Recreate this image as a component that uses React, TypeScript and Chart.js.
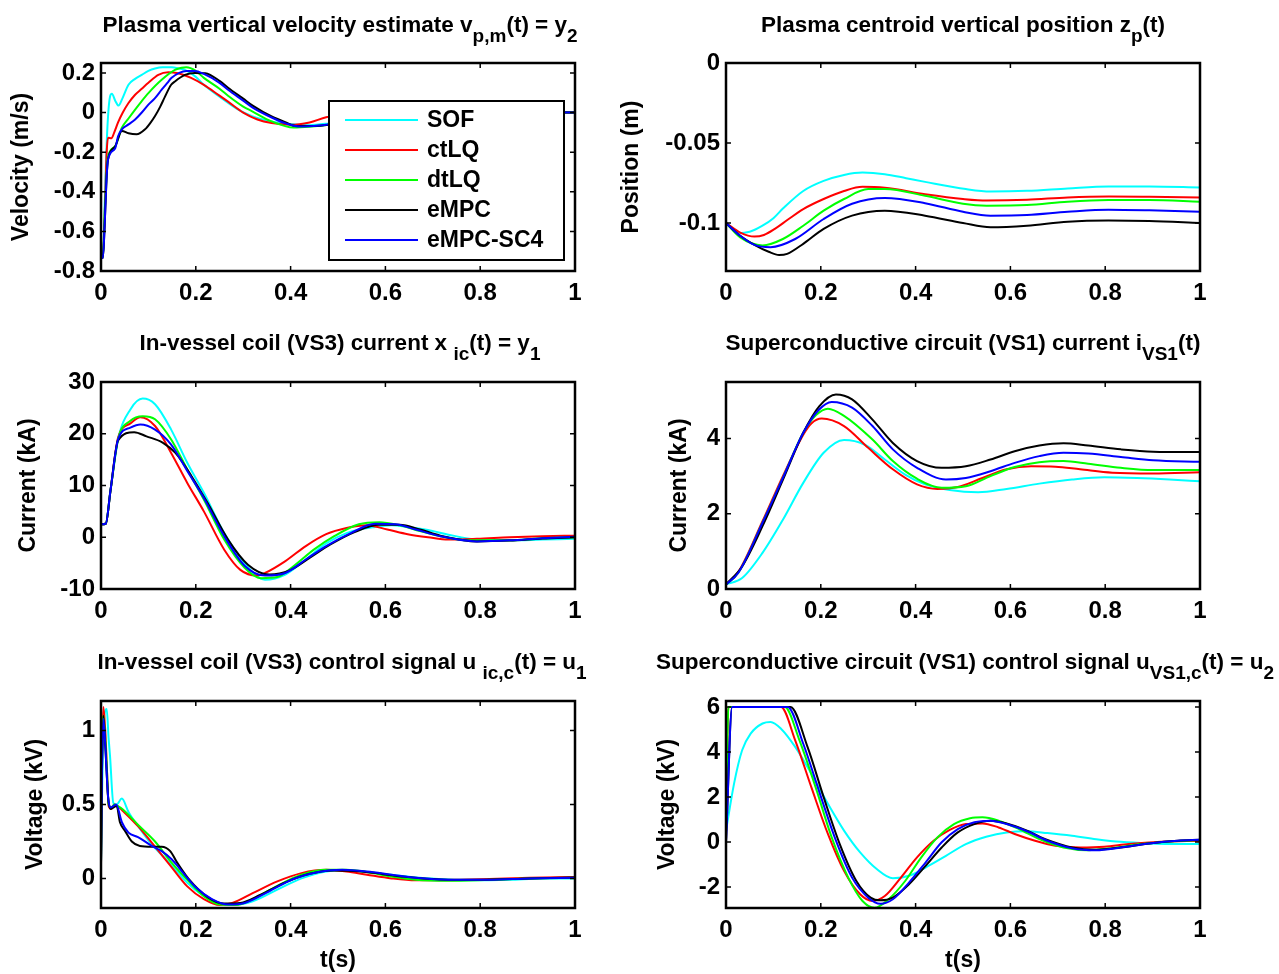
import React, { useEffect, useRef } from "react";
import { Chart, registerables } from "chart.js";
Chart.register(...registerables);

// ---------------- data ----------------
const SERIES_NAMES = ["SOF", "ctLQ", "dtLQ", "eMPC", "eMPC-SC4"];
const SERIES_COLORS = ["#00FFFF", "#FF0000", "#00FF00", "#000000", "#0000FF"];
const X_TICKS = [0, 0.2, 0.4, 0.6, 0.8, 1];

// Plasma vertical velocity estimate (m/s)
const velSOF = [[0,-0.72],[0.004,-0.73],[0.008,-0.45],[0.013,-0.1],[0.019,0.08],[0.023,0.095],[0.03,0.06],[0.037,0.035],[0.045,0.07],[0.058,0.14],[0.072,0.17],[0.086,0.19],[0.1,0.21],[0.114,0.222],[0.13,0.228],[0.149,0.228],[0.165,0.222],[0.177,0.215],[0.2,0.18],[0.217,0.14],[0.25,0.08],[0.286,0.02],[0.32,-0.02],[0.36,-0.045],[0.4,-0.058],[0.44,-0.064],[0.48,-0.055],[0.52,-0.04],[0.56,-0.025],[0.6,-0.012],[0.7,0.0],[0.8,0.002],[0.9,0],[1,0]];
const velCtLQ = [[0,-0.7],[0.004,-0.72],[0.008,-0.5],[0.012,-0.2],[0.015,-0.127],[0.022,-0.13],[0.028,-0.1],[0.036,-0.05],[0.046,0.0],[0.058,0.048],[0.072,0.09],[0.086,0.12],[0.1,0.15],[0.121,0.19],[0.142,0.203],[0.16,0.2],[0.17,0.193],[0.19,0.175],[0.217,0.14],[0.25,0.085],[0.268,0.055],[0.3,0.0],[0.33,-0.035],[0.36,-0.053],[0.4,-0.062],[0.44,-0.05],[0.475,-0.024],[0.52,-0.01],[0.56,0.0],[0.6,0.005],[0.7,0.005],[0.8,0],[1,0]];
const velDtLQ = [[0,-0.72],[0.004,-0.73],[0.008,-0.5],[0.012,-0.3],[0.015,-0.22],[0.03,-0.17],[0.044,-0.077],[0.058,-0.03],[0.072,0.015],[0.086,0.058],[0.1,0.098],[0.128,0.165],[0.156,0.215],[0.17,0.226],[0.18,0.228],[0.2,0.21],[0.217,0.175],[0.25,0.12],[0.268,0.085],[0.3,0.03],[0.32,0.005],[0.36,-0.045],[0.406,-0.076],[0.44,-0.072],[0.48,-0.062],[0.52,-0.045],[0.56,-0.028],[0.6,-0.015],[0.7,0.0],[0.8,0.002],[1,0]];
const velEMPC = [[0,-0.72],[0.004,-0.735],[0.008,-0.55],[0.012,-0.32],[0.015,-0.235],[0.03,-0.17],[0.044,-0.093],[0.058,-0.105],[0.075,-0.11],[0.093,-0.085],[0.105,-0.05],[0.114,-0.018],[0.125,0.03],[0.135,0.08],[0.148,0.14],[0.156,0.157],[0.177,0.19],[0.198,0.2],[0.22,0.198],[0.25,0.16],[0.268,0.125],[0.3,0.07],[0.32,0.035],[0.36,-0.02],[0.39,-0.05],[0.41,-0.068],[0.45,-0.068],[0.48,-0.062],[0.52,-0.045],[0.56,-0.03],[0.6,-0.018],[0.7,-0.002],[0.8,0.002],[1,0]];
const velSC4 = [[0,-0.72],[0.004,-0.735],[0.008,-0.55],[0.012,-0.32],[0.015,-0.235],[0.03,-0.18],[0.036,-0.12],[0.044,-0.085],[0.058,-0.06],[0.072,-0.035],[0.086,0.0],[0.1,0.04],[0.113,0.07],[0.128,0.115],[0.14,0.15],[0.149,0.175],[0.165,0.2],[0.18,0.21],[0.198,0.21],[0.217,0.195],[0.25,0.15],[0.268,0.115],[0.3,0.06],[0.32,0.025],[0.36,-0.025],[0.39,-0.055],[0.42,-0.071],[0.46,-0.066],[0.48,-0.06],[0.52,-0.045],[0.56,-0.03],[0.6,-0.018],[0.7,-0.002],[0.8,0.002],[1,0]];
const VEL_Y_TICKS = [-0.8, -0.6, -0.4, -0.2, 0, 0.2];

// Plasma centroid vertical position (m)
const posSOF = [[0,-0.1],[0.026,-0.1064],[0.05,-0.1055],[0.077,-0.1017],[0.1,-0.097],[0.12,-0.091],[0.163,-0.08],[0.206,-0.0737],[0.249,-0.07],[0.288,-0.0685],[0.335,-0.0695],[0.38,-0.072],[0.42,-0.0743],[0.506,-0.0788],[0.558,-0.0803],[0.635,-0.0799],[0.721,-0.0784],[0.807,-0.0772],[0.893,-0.0772],[1,-0.0778]];
const posCtLQ = [[0,-0.1],[0.03,-0.106],[0.06,-0.1085],[0.08,-0.1075],[0.103,-0.1037],[0.13,-0.098],[0.163,-0.0913],[0.206,-0.085],[0.249,-0.08],[0.288,-0.0774],[0.335,-0.078],[0.42,-0.082],[0.5,-0.085],[0.55,-0.086],[0.635,-0.0855],[0.721,-0.084],[0.807,-0.0834],[0.893,-0.0836],[1,-0.084]];
const posDtLQ = [[0,-0.1],[0.03,-0.109],[0.077,-0.114],[0.12,-0.11],[0.163,-0.1017],[0.206,-0.0923],[0.249,-0.085],[0.3,-0.0788],[0.335,-0.0788],[0.42,-0.083],[0.5,-0.088],[0.55,-0.0892],[0.635,-0.0888],[0.721,-0.0867],[0.807,-0.0857],[0.893,-0.0857],[1,-0.0867]];
const posEMPC = [[0,-0.1],[0.03,-0.108],[0.06,-0.1137],[0.09,-0.118],[0.112,-0.12],[0.129,-0.1193],[0.163,-0.113],[0.206,-0.1037],[0.266,-0.0954],[0.335,-0.0923],[0.42,-0.0954],[0.5,-0.1],[0.558,-0.1027],[0.635,-0.1017],[0.721,-0.0992],[0.807,-0.0985],[0.893,-0.0988],[1,-0.1]];
const posSC4 = [[0,-0.1],[0.03,-0.108],[0.06,-0.1137],[0.094,-0.1151],[0.146,-0.11],[0.206,-0.0975],[0.266,-0.088],[0.335,-0.0844],[0.42,-0.0876],[0.5,-0.093],[0.558,-0.0954],[0.635,-0.095],[0.721,-0.093],[0.807,-0.0917],[0.893,-0.0921],[1,-0.093]];
const POS_Y_TICKS = [-0.1, -0.05, 0];

// In-vessel coil current (kA)
const icSOF = [[0,2.5],[0.01,2.6],[0.02,9],[0.036,18.9],[0.062,24.7],[0.088,26.8],[0.114,25.7],[0.148,20.8],[0.182,14.4],[0.217,8.6],[0.26,0.8],[0.303,-5],[0.346,-8.2],[0.389,-7.2],[0.432,-4.3],[0.475,-1.2],[0.518,0.8],[0.578,2.0],[0.613,2.3],[0.647,2.0],[0.69,1.4],[0.733,0.5],[0.793,-0.45],[0.862,-0.6],[0.931,-0.45],[1,-0.3]];
const icCtLQ = [[0,2.5],[0.01,2.6],[0.02,9],[0.036,19.2],[0.062,22],[0.083,23.2],[0.114,21.5],[0.148,16.3],[0.182,10.5],[0.217,5],[0.26,-2.4],[0.294,-6.3],[0.329,-7.4],[0.346,-6.9],[0.389,-4.6],[0.432,-1.7],[0.475,0.6],[0.518,1.8],[0.561,2.3],[0.604,1.5],[0.647,0.6],[0.69,0],[0.733,-0.45],[0.793,-0.3],[0.862,0],[0.931,0.2],[1,0.3]];
const icDtLQ = [[0,2.5],[0.01,2.6],[0.02,9],[0.036,18.9],[0.062,22.5],[0.088,23.4],[0.114,22.8],[0.148,18.9],[0.182,13.1],[0.217,7.3],[0.26,-0.45],[0.303,-5.9],[0.337,-7.9],[0.372,-7.7],[0.406,-5.6],[0.449,-2.4],[0.492,0.2],[0.544,2.5],[0.587,2.9],[0.63,2.3],[0.673,1.2],[0.716,0.2],[0.776,-0.6],[0.862,-0.6],[0.931,-0.2],[1,0]];
const icEMPC = [[0,2.5],[0.01,2.6],[0.02,9],[0.036,18.7],[0.07,20.3],[0.096,19.5],[0.13,18.3],[0.157,16.3],[0.191,11.8],[0.225,6.6],[0.268,-0.45],[0.31,-5.3],[0.355,-7.2],[0.398,-6.4],[0.44,-4],[0.484,-1.4],[0.535,1],[0.587,2.4],[0.63,2.4],[0.673,1.5],[0.716,0.3],[0.793,-0.8],[0.862,-0.65],[0.931,-0.25],[1,0]];
const icSC4 = [[0,2.5],[0.01,2.6],[0.02,9],[0.036,18.9],[0.062,21.2],[0.083,21.8],[0.114,20.8],[0.148,17.9],[0.182,12.8],[0.217,7.6],[0.26,0.2],[0.303,-5.5],[0.346,-7.4],[0.389,-6.9],[0.432,-4.3],[0.475,-1.7],[0.527,0.8],[0.578,2.6],[0.621,2.5],[0.664,1.5],[0.716,0.2],[0.793,-0.8],[0.862,-0.6],[0.931,-0.2],[1,0.1]];
const IC_Y_TICKS = [-10, 0, 10, 20, 30];

// Superconductive circuit current (kA)
const vs1SOF = [[0,0.12],[0.034,0.29],[0.077,0.96],[0.12,1.84],[0.163,2.82],[0.206,3.62],[0.249,3.96],[0.292,3.84],[0.335,3.44],[0.378,3.04],[0.42,2.78],[0.472,2.63],[0.532,2.57],[0.592,2.66],[0.661,2.8],[0.73,2.91],[0.798,2.97],[0.867,2.95],[0.936,2.91],[1,2.86]];
const vs1CtLQ = [[0,0.12],[0.026,0.45],[0.077,1.8],[0.12,3.0],[0.163,4.1],[0.18,4.4],[0.202,4.53],[0.249,4.33],[0.3,3.75],[0.352,3.18],[0.403,2.78],[0.446,2.66],[0.489,2.71],[0.541,2.95],[0.592,3.18],[0.644,3.26],[0.695,3.25],[0.747,3.18],[0.815,3.09],[0.901,3.07],[1,3.1]];
const vs1DtLQ = [[0,0.12],[0.026,0.43],[0.077,1.76],[0.12,2.95],[0.163,4.15],[0.19,4.62],[0.215,4.79],[0.249,4.6],[0.309,3.97],[0.352,3.4],[0.403,2.93],[0.455,2.69],[0.506,2.73],[0.558,3.0],[0.609,3.24],[0.661,3.37],[0.712,3.4],[0.764,3.33],[0.833,3.22],[0.901,3.16],[1,3.16]];
const vs1EMPC = [[0,0.12],[0.034,0.6],[0.077,1.67],[0.12,2.9],[0.163,4.15],[0.197,4.86],[0.232,5.17],[0.266,5.04],[0.309,4.5],[0.352,3.88],[0.403,3.4],[0.455,3.22],[0.506,3.26],[0.558,3.44],[0.609,3.66],[0.661,3.81],[0.712,3.87],[0.764,3.81],[0.833,3.71],[0.901,3.65],[1,3.64]];
const vs1SC4 = [[0,0.12],[0.026,0.43],[0.077,1.76],[0.12,2.95],[0.163,4.15],[0.195,4.75],[0.223,4.97],[0.266,4.82],[0.309,4.33],[0.352,3.71],[0.403,3.22],[0.464,2.91],[0.506,2.95],[0.558,3.13],[0.609,3.35],[0.661,3.53],[0.712,3.62],[0.764,3.6],[0.833,3.51],[0.901,3.42],[1,3.38]];
const VS1_Y_TICKS = [0, 2, 4];

// In-vessel coil control signal (kV)
const u1SOF = [[0,0.1],[0.004,0.9],[0.008,1.12],[0.012,1.146],[0.016,0.95],[0.019,0.83],[0.026,0.51],[0.033,0.5],[0.044,0.54],[0.058,0.45],[0.079,0.35],[0.107,0.23],[0.131,0.15],[0.157,0.06],[0.182,-0.03],[0.217,-0.12],[0.251,-0.17],[0.277,-0.18],[0.32,-0.155],[0.372,-0.076],[0.423,0],[0.475,0.047],[0.518,0.054],[0.561,0.043],[0.613,0.025],[0.664,0.007],[0.716,-0.004],[0.776,-0.013],[0.862,-0.009],[0.931,0],[1,0]];
const u1CtLQ = [[0,0.08],[0.002,0.8],[0.005,1.16],[0.009,1.0],[0.013,0.7],[0.016,0.49],[0.022,0.47],[0.028,0.5],[0.035,0.49],[0.045,0.46],[0.079,0.35],[0.114,0.215],[0.148,0.08],[0.182,-0.054],[0.217,-0.14],[0.251,-0.18],[0.277,-0.166],[0.32,-0.1],[0.372,-0.02],[0.423,0.036],[0.475,0.058],[0.518,0.047],[0.561,0.025],[0.613,0],[0.664,-0.013],[0.733,-0.013],[0.819,-0.004],[0.905,0.004],[1,0.009]];
const u1DtLQ = [[0,0.1],[0.002,0.8],[0.005,1.1],[0.009,0.95],[0.013,0.7],[0.016,0.5],[0.022,0.48],[0.028,0.5],[0.035,0.49],[0.045,0.47],[0.079,0.36],[0.114,0.25],[0.148,0.11],[0.182,-0.01],[0.217,-0.12],[0.251,-0.177],[0.285,-0.18],[0.32,-0.14],[0.372,-0.05],[0.423,0.025],[0.475,0.058],[0.518,0.058],[0.561,0.043],[0.613,0.013],[0.664,-0.009],[0.733,-0.016],[0.819,-0.009],[0.905,0],[1,0.004]];
const u1EMPC = [[0,0.1],[0.002,0.7],[0.005,1.1],[0.009,0.9],[0.015,0.55],[0.02,0.47],[0.033,0.49],[0.04,0.38],[0.051,0.32],[0.065,0.25],[0.082,0.22],[0.107,0.215],[0.128,0.215],[0.146,0.185],[0.16,0.11],[0.184,0.0],[0.225,-0.126],[0.26,-0.17],[0.294,-0.166],[0.337,-0.11],[0.389,-0.027],[0.44,0.031],[0.492,0.054],[0.544,0.049],[0.596,0.029],[0.647,0.009],[0.716,-0.007],[0.801,-0.009],[0.905,0],[1,0.007]];
const u1SC4 = [[0,0.1],[0.002,0.7],[0.005,1.08],[0.009,0.9],[0.015,0.55],[0.02,0.48],[0.032,0.5],[0.044,0.38],[0.058,0.31],[0.078,0.28],[0.107,0.22],[0.128,0.185],[0.149,0.13],[0.165,0.07],[0.2,-0.06],[0.234,-0.14],[0.268,-0.177],[0.303,-0.166],[0.355,-0.087],[0.406,-0.004],[0.458,0.043],[0.509,0.058],[0.561,0.047],[0.613,0.025],[0.664,0.004],[0.733,-0.009],[0.819,-0.009],[0.905,0],[1,0.004]];
const U1_Y_TICKS = [0, 0.5, 1];

// Superconductive circuit control signal (kV)
const u2SOF = [[0,0.5],[0.017,2.6],[0.034,4.08],[0.052,4.82],[0.077,5.27],[0.094,5.34],[0.116,5.04],[0.146,4.23],[0.18,3.04],[0.215,1.7],[0.249,0.51],[0.283,-0.46],[0.318,-1.2],[0.352,-1.61],[0.386,-1.5],[0.421,-1.13],[0.464,-0.61],[0.506,-0.09],[0.549,0.24],[0.592,0.43],[0.635,0.48],[0.678,0.4],[0.73,0.28],[0.781,0.13],[0.833,0.01],[0.893,-0.06],[0.953,-0.09],[1,-0.09]];
const u2CtLQ = [[0,0.36],[0.005,6],[0.116,6],[0.146,4.52],[0.18,2.44],[0.215,0.36],[0.249,-1.28],[0.283,-2.32],[0.309,-2.62],[0.335,-2.4],[0.369,-1.58],[0.403,-0.68],[0.438,0.06],[0.472,0.54],[0.506,0.8],[0.541,0.83],[0.575,0.65],[0.609,0.36],[0.652,0.06],[0.695,-0.16],[0.747,-0.24],[0.798,-0.21],[0.85,-0.09],[0.918,0.01],[1,0.06]];
const u2DtLQ = [[0,0.8],[0.005,6],[0.124,6],[0.155,4.52],[0.189,2.44],[0.223,0.21],[0.258,-1.58],[0.288,-2.62],[0.313,-2.92],[0.343,-2.54],[0.378,-1.73],[0.412,-0.68],[0.446,0.21],[0.481,0.8],[0.515,1.06],[0.541,1.1],[0.575,0.95],[0.618,0.58],[0.661,0.13],[0.712,-0.24],[0.764,-0.36],[0.815,-0.27],[0.876,-0.09],[0.936,0.03],[1,0.09]];
const u2EMPC = [[0,0],[0.013,6],[0.136,6],[0.172,4.23],[0.206,2.0],[0.24,-0.09],[0.275,-1.73],[0.305,-2.47],[0.326,-2.59],[0.352,-2.47],[0.386,-1.88],[0.421,-1.06],[0.455,-0.24],[0.489,0.43],[0.524,0.8],[0.558,0.95],[0.592,0.83],[0.635,0.51],[0.678,0.09],[0.73,-0.24],[0.781,-0.34],[0.833,-0.24],[0.893,-0.06],[0.953,0.06],[1,0.1]];
const u2SC4 = [[0,0],[0.013,6],[0.13,6],[0.163,4.37],[0.197,2.22],[0.232,0.06],[0.266,-1.58],[0.3,-2.47],[0.326,-2.74],[0.352,-2.54],[0.386,-1.8],[0.421,-0.91],[0.455,-0.01],[0.489,0.58],[0.524,0.88],[0.558,0.95],[0.592,0.8],[0.635,0.48],[0.678,0.06],[0.73,-0.27],[0.781,-0.36],[0.833,-0.24],[0.893,-0.06],[0.953,0.06],[1,0.1]];
const U2_Y_TICKS = [-2, 0, 2, 4, 6];

// ---------------- layout / style ----------------
const FONT_FAMILY = "'Liberation Sans', Arial, Helvetica, sans-serif";
const TICK_FONT_SIZE = 24;
const LABEL_FONT_SIZE = 23;
const COLS = [
  { left: 0, width: 600, plotLeft: 101, plotRight: 575 },
  { left: 600, width: 679, plotLeft: 726, plotRight: 1200 },
];
const ROWS = [
  { top: 0, height: 310, plotTop: 63, plotBottom: 271 },
  { top: 310, height: 320, plotTop: 382, plotBottom: 589 },
  { top: 630, height: 344, plotTop: 701, plotBottom: 908 },
];

const PANELS = [
  { col: 0, row: 0, series: [velSOF, velCtLQ, velDtLQ, velEMPC, velSC4], yMin: -0.8, yMax: 0.25, yTicks: VEL_Y_TICKS, yLabel: "Velocity (m/s)", yTitleCenter: 22, legend: true },
  { col: 1, row: 0, series: [posSOF, posCtLQ, posDtLQ, posEMPC, posSC4], yMin: -0.13, yMax: 0, yTicks: POS_Y_TICKS, yLabel: "Position (m)", yTitleCenter: 632 },
  { col: 0, row: 1, series: [icSOF, icCtLQ, icDtLQ, icEMPC, icSC4], yMin: -10, yMax: 30, yTicks: IC_Y_TICKS, yLabel: "Current (kA)", yTitleCenter: 29 },
  { col: 1, row: 1, series: [vs1SOF, vs1CtLQ, vs1DtLQ, vs1EMPC, vs1SC4], yMin: 0, yMax: 5.5, yTicks: VS1_Y_TICKS, yLabel: "Current (kA)", yTitleCenter: 680 },
  { col: 0, row: 2, series: [u1SOF, u1CtLQ, u1DtLQ, u1EMPC, u1SC4], yMin: -0.2, yMax: 1.2, yTicks: U1_Y_TICKS, yLabel: "Voltage (kV)", yTitleCenter: 36, xLabel: "t(s)" },
  { col: 1, row: 2, series: [u2SOF, u2CtLQ, u2DtLQ, u2EMPC, u2SC4], yMin: -2.93, yMax: 6.27, yTicks: U2_Y_TICKS, yLabel: "Voltage (kV)", yTitleCenter: 668, xLabel: "t(s)" },
];

const LEGEND_BOX = { left: 329, top: 101, right: 564, bottom: 260, lineX0: 345, lineX1: 418, textX: 427, firstY: 120, stepY: 30 };

const fmt = (v: number) => String(Math.round(v * 1000) / 1000);

function Panel({ cfg }: { cfg: any }) {
  const ref = useRef<HTMLCanvasElement | null>(null);
  const col = COLS[cfg.col];
  const row = ROWS[cfg.row];
  useEffect(() => {
    if (!ref.current) return;
    const tickFont = { family: FONT_FAMILY, size: TICK_FONT_SIZE, weight: "bold" as const };
    const labelFont = { family: FONT_FAMILY, size: LABEL_FONT_SIZE, weight: "bold" as const };
    const halfLabelLine = (LABEL_FONT_SIZE * 1.2) / 2;
    const datasets = cfg.series.map((pts: number[][], i: number) => ({
      label: SERIES_NAMES[i],
      data: pts.map((p) => ({ x: p[0], y: p[1] })),
      borderColor: SERIES_COLORS[i],
      backgroundColor: SERIES_COLORS[i],
      borderWidth: 2,
      pointRadius: 0,
      fill: false,
      cubicInterpolationMode: "monotone",
      order: SERIES_NAMES.length - 1 - i,
    }));
    const framePlugin = {
      id: "frame",
      afterDatasetsDraw(chart: any) {
        const { ctx, chartArea, scales } = chart;
        const { left, right, top, bottom } = chartArea;
        ctx.save();
        ctx.strokeStyle = "#000";
        ctx.lineWidth = 1.5;
        const tl = 5;
        ctx.beginPath();
        for (const t of scales.x.ticks) {
          const px = scales.x.getPixelForValue(t.value);
          ctx.moveTo(px, bottom); ctx.lineTo(px, bottom - tl);
          ctx.moveTo(px, top); ctx.lineTo(px, top + tl);
        }
        for (const t of scales.y.ticks) {
          const py = scales.y.getPixelForValue(t.value);
          ctx.moveTo(left, py); ctx.lineTo(left + tl, py);
          ctx.moveTo(right, py); ctx.lineTo(right - tl, py);
        }
        ctx.stroke();
        ctx.lineWidth = 2.5;
        ctx.strokeRect(left, top, right - left, bottom - top);
        if (cfg.legend) {
          const ox = col.left, oy = row.top;
          const L = LEGEND_BOX;
          ctx.fillStyle = "#fff";
          ctx.fillRect(L.left - ox, L.top - oy, L.right - L.left, L.bottom - L.top);
          ctx.lineWidth = 2;
          ctx.strokeStyle = "#000";
          ctx.strokeRect(L.left - ox, L.top - oy, L.right - L.left, L.bottom - L.top);
          ctx.font = `bold ${LABEL_FONT_SIZE}px ${FONT_FAMILY}`;
          ctx.textBaseline = "middle";
          ctx.textAlign = "left";
          SERIES_NAMES.forEach((name, i) => {
            const y = L.firstY + i * L.stepY - oy;
            ctx.strokeStyle = SERIES_COLORS[i];
            ctx.lineWidth = 2;
            ctx.beginPath();
            ctx.moveTo(L.lineX0 - ox, y);
            ctx.lineTo(L.lineX1 - ox, y);
            ctx.stroke();
            ctx.fillStyle = "#000";
            ctx.fillText(name, L.textX - ox, y + 1);
          });
        }
        ctx.restore();
      },
    };
    const chart = new Chart(ref.current, {
      type: "line",
      data: { datasets },
      plugins: [framePlugin],
      options: {
        responsive: false,
        maintainAspectRatio: false,
        animation: false,
        events: [],
        layout: {
          padding: {
            left: 0,
            top: row.plotTop - row.top,
            right: col.left + col.width - col.plotRight,
            bottom: 0,
          },
        },
        plugins: {
          legend: { display: false },
          tooltip: { enabled: false },
          title: { display: false },
        },
        scales: {
          x: {
            type: "linear",
            min: 0,
            max: 1,
            grid: { display: false, drawTicks: false },
            border: { display: false },
            ticks: { font: tickFont, color: "#000", padding: 8, maxRotation: 0, autoSkip: false, callback: (v: any) => fmt(Number(v)) },
            afterBuildTicks: (s: any) => { s.ticks = X_TICKS.map((v) => ({ value: v })); },
            afterFit: (s: any) => { s.height = row.top + row.height - row.plotBottom; },
            title: cfg.xLabel
              ? { display: true, text: cfg.xLabel, font: labelFont, color: "#000", padding: { top: 0, bottom: 0 } }
              : { display: false },
          },
          y: {
            type: "linear",
            min: cfg.yMin,
            max: cfg.yMax,
            grid: { display: false, drawTicks: false },
            border: { display: false },
            ticks: { font: tickFont, color: "#000", padding: 6, autoSkip: false, callback: (v: any) => fmt(Number(v)) },
            afterBuildTicks: (s: any) => { s.ticks = cfg.yTicks.map((v: number) => ({ value: v })); },
            afterFit: (s: any) => { s.width = col.plotLeft - col.left; },
            title: {
              display: true,
              text: cfg.yLabel,
              font: labelFont,
              color: "#000",
              padding: { top: cfg.yTitleCenter - col.left - halfLabelLine, bottom: 0 },
            },
          },
        },
      } as any,
    });
    return () => chart.destroy();
  }, []);
  return (
    <canvas
      ref={ref}
      width={col.width}
      height={row.height}
      style={{ position: "absolute", left: col.left, top: row.top, width: col.width, height: row.height }}
    />
  );
}

const Sub = ({ children }: { children: any }) => (
  <span style={{ fontSize: 19, position: "relative", top: 10 }}>{children}</span>
);

const TITLE_STYLE: any = {
  position: "absolute",
  width: 800,
  textAlign: "center",
  fontFamily: FONT_FAMILY,
  fontWeight: "bold",
  fontSize: 22.5,
  lineHeight: "26px",
  whiteSpace: "nowrap",
  color: "#000",
};

function Title({ cx, top, children }: { cx: number; top: number; children: any }) {
  return <div style={{ ...TITLE_STYLE, left: cx - 400, top }}>{children}</div>;
}

export default function App() {
  const lc = (COLS[0].plotLeft + COLS[0].plotRight) / 2;
  const rc = (COLS[1].plotLeft + COLS[1].plotRight) / 2;
  return (
    <div style={{ position: "absolute", left: 0, top: 0, width: 1279, height: 974, overflow: "hidden", background: "#fff" }}>
      {PANELS.map((p, i) => (
        <Panel key={i} cfg={p} />
      ))}
      <Title cx={lc + 2} top={12}>Plasma vertical velocity estimate v<Sub>p,m</Sub>(t) = y<Sub>2</Sub></Title>
      <Title cx={rc} top={12}>Plasma centroid vertical position z<Sub>p</Sub>(t)</Title>
      <Title cx={lc + 2} top={330}>In-vessel coil (VS3) current x <Sub>ic</Sub>(t) = y<Sub>1</Sub></Title>
      <Title cx={rc} top={330}>Superconductive circuit (VS1) current i<Sub>VS1</Sub>(t)</Title>
      <Title cx={lc + 4} top={649}>In-vessel coil (VS3) control signal u <Sub>ic,c</Sub>(t) = u<Sub>1</Sub></Title>
      <Title cx={rc + 2} top={649}>Superconductive circuit (VS1) control signal u<Sub>VS1,c</Sub>(t) = u<Sub>2</Sub></Title>
    </div>
  );
}
